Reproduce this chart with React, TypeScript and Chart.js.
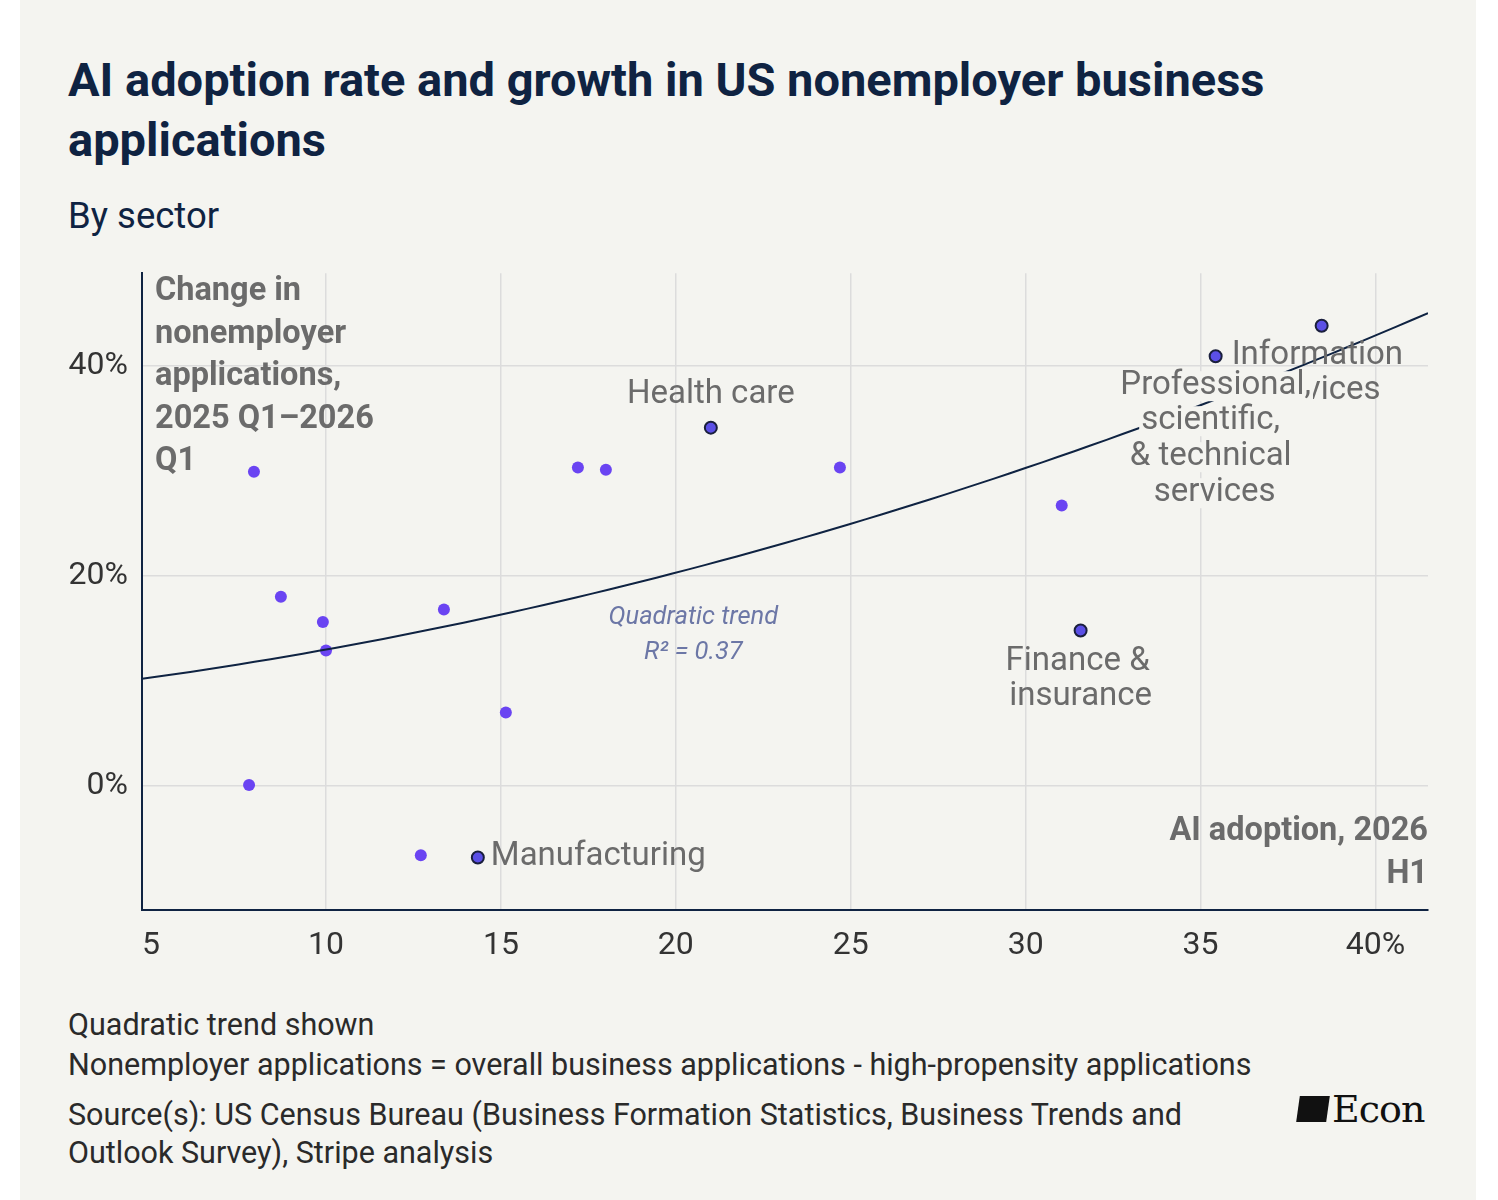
import React, { useEffect, useRef } from "react";
import { Chart, registerables } from "chart.js";
Chart.register(...registerables);

const xTicks = [5, 10, 15, 20, 25, 30, 35, 40];
const yTicks = [0, 20, 40];
const otherX = [7.94, 8.71, 9.91, 10.0, 7.8, 13.37, 12.71, 15.14, 17.2, 18.0, 24.69, 31.03];
const otherY = [29.9, 18.0, 15.6, 12.9, 0.1, 16.8, -6.6, 7.0, 30.3, 30.1, 30.3, 26.7];
const namedSectors = ["Manufacturing", "Health care", "Finance & insurance", "Professional, scientific, & technical services", "Information services"];
const namedX = [14.34, 21.0, 31.57, 35.43, 38.46];
const namedY = [-6.8, 34.1, 14.8, 40.9, 43.8];
const trendCoef = [8.32, 0.334, 0.01325];
const X_MIN = 4.74, X_MAX = 41.5, Y_MIN = -11.8, Y_MAX = 48.8;

const FONT = "Roboto, 'Noto Sans', sans-serif";
const NAVY = "#0f2342";
const BG = "#f4f4f0";

const labelPlugin = {
  id: "labels",
  afterDatasetsDraw(chart: any) {
    const ctx = chart.ctx;
    const xs = chart.scales.x, ys = chart.scales.y;
    const ca = chart.chartArea;
    ctx.save();
    ctx.fillStyle = "#6b6b6b";
    ctx.font = `bold 32.5px ${FONT}`;
    ctx.textAlign = "left";
    ctx.textBaseline = "middle";
    ["Change in", "nonemployer", "applications,", "2025 Q1\u20132026", "Q1"].forEach((t, i) =>
      ctx.fillText(t, ca.left + 13, ca.top + 19 + i * 42.5));
    ctx.textAlign = "right";
    ctx.fillText("AI adoption, 2026", ca.right, ca.bottom - 78);
    ctx.fillText("H1", ca.right, ca.bottom - 35);
    ctx.fillStyle = "#6c77a6";
    ctx.font = `italic 25.5px ${FONT}`;
    ctx.textAlign = "center";
    const tx = xs.getPixelForValue(20.5);
    ctx.fillText("Quadratic trend", tx, ys.getPixelForValue(16.0));
    ctx.fillText("R\u00b2 = 0.37", tx, ys.getPixelForValue(12.7));
    ctx.fillStyle = "#6b6b6b";
    ctx.font = `33px ${FONT}`;
    const p = (i: number) => [xs.getPixelForValue(namedX[i]), ys.getPixelForValue(namedY[i])];
    let [x, y] = p(0);
    ctx.textAlign = "left";
    ctx.fillText("Manufacturing", x + 13, y - 1);
    [x, y] = p(1);
    ctx.textAlign = "center";
    ctx.fillText("Health care", x, y - 33);
    [x, y] = p(2);
    ctx.fillText("Finance &", x - 3, y + 31);
    ctx.fillText("insurance", x, y + 66);
    [x, y] = p(4);
    ctx.textAlign = "left";
    ctx.fillText("Information", x - 90, y + 30);
    ctx.textAlign = "right";
    ctx.fillText("services", x + 59, y + 65);
    [x, y] = p(3);
    ctx.textAlign = "center";
    const lines: [string, number, number][] = [
      ["Professional,", 0, 30], ["scientific,", -5, 65], ["& technical", -5, 101], ["services", -1, 137],
    ];
    lines.forEach(([t, dx, dy]) => {
      const w = ctx.measureText(t).width;
      ctx.fillStyle = BG;
      ctx.fillRect(x + dx - w / 2 - 2, y + dy - 15, w + 4, 30);
    });
    ctx.fillStyle = "#6b6b6b";
    lines.forEach(([t, dx, dy]) => ctx.fillText(t, x + dx, y + dy));
    ctx.restore();
  },
};

export default function App() {
  const ref = useRef<HTMLCanvasElement>(null);
  useEffect(() => {
    const trend: { x: number; y: number }[] = [];
    for (let i = 0; i <= 80; i++) {
      const xv = X_MIN + ((X_MAX - X_MIN) * i) / 80;
      trend.push({ x: xv, y: trendCoef[0] + trendCoef[1] * xv + trendCoef[2] * xv * xv });
    }
    const chart = new Chart(ref.current!, {
      type: "scatter",
      data: {
        datasets: [
          { type: "line", data: trend, borderColor: NAVY, borderWidth: 2, pointRadius: 0, fill: false } as any,
          {
            data: otherX.map((v, i) => ({ x: v, y: otherY[i] })),
            backgroundColor: "#6a44f2",
            borderWidth: 0,
            pointRadius: 6,
          },
          {
            data: namedX.map((v, i) => ({ x: v, y: namedY[i] })),
            backgroundColor: "#5b4fe6",
            borderColor: "#1a1f3d",
            borderWidth: 2,
            pointRadius: 6,
          },
        ],
      },
      options: {
        animation: false,
        responsive: false,
        layout: { padding: { left: 42, right: 48, top: 24, bottom: 30 } },
        plugins: { legend: { display: false }, tooltip: { enabled: false } },
        scales: {
          x: {
            type: "linear",
            min: X_MIN,
            max: X_MAX,
            afterFit: (s: any) => { s.height = 60; },
            afterBuildTicks: (s: any) => { s.ticks = xTicks.map((v) => ({ value: v })); },
            ticks: {
              color: "#333",
              font: { size: 32, family: FONT },
              padding: 17,
              maxRotation: 0,
              callback: (v: any) => (v === 40 ? "40%" : String(v)),
            },
            grid: { color: (c: any) => (c.tick && c.tick.value === 5 ? "rgba(0,0,0,0)" : "#dcdcdc"), lineWidth: 1.5, drawTicks: false },
            border: { color: NAVY, width: 2 },
          },
          y: {
            type: "linear",
            min: Y_MIN,
            max: Y_MAX,
            afterFit: (s: any) => { s.width = 80; },
            afterBuildTicks: (s: any) => { s.ticks = yTicks.map((v) => ({ value: v })); },
            ticks: { color: "#333", font: { size: 32, family: FONT }, padding: 14, callback: (v: any) => `${v}%` },
            grid: { color: "#dcdcdc", lineWidth: 1.5, drawTicks: false },
            border: { color: NAVY, width: 2 },
          },
        },
      },
      plugins: [labelPlugin],
    });
    return () => chart.destroy();
  }, []);

  const txt: React.CSSProperties = { position: "absolute", left: 48, margin: 0, fontFamily: FONT, color: "#333", whiteSpace: "nowrap" };
  return (
    <div style={{ position: "absolute", left: 20, top: 0, width: 1456, height: 1200, background: BG, overflow: "hidden" }}>
      <div style={{ ...txt, top: 50, fontSize: 47, fontWeight: 700, color: NAVY, lineHeight: "60px" }}>
        AI adoption rate and growth in US nonemployer business<br />applications
      </div>
      <div style={{ ...txt, top: 194, fontSize: 36.5, color: NAVY }}>By sector</div>
      <canvas ref={ref} width={1456} height={760} style={{ position: "absolute", left: 0, top: 240, width: 1456, height: 760 }} />
      <div style={{ ...txt, top: 1005, fontSize: 30.5, lineHeight: "40px", color: "#2a2a2a" }}>
        Quadratic trend shown<br />Nonemployer applications = overall business applications - high-propensity applications
      </div>
      <div style={{ ...txt, top: 1096, fontSize: 30.5, lineHeight: "38px", color: "#2a2a2a" }}>
        Source(s): US Census Bureau (Business Formation Statistics, Business Trends and<br />Outlook Survey), Stripe analysis
      </div>
      <div style={{ position: "absolute", left: 1278, top: 1087, display: "flex", alignItems: "center" }}>
        <div style={{ width: 30, height: 26, background: "#111", transform: "skewX(-8deg)", marginRight: 4 }} />
        <span style={{ fontFamily: "'DejaVu Serif', 'Liberation Serif', serif", fontSize: 38, color: "#111", letterSpacing: -1 }}>Econ</span>
      </div>
    </div>
  );
}
